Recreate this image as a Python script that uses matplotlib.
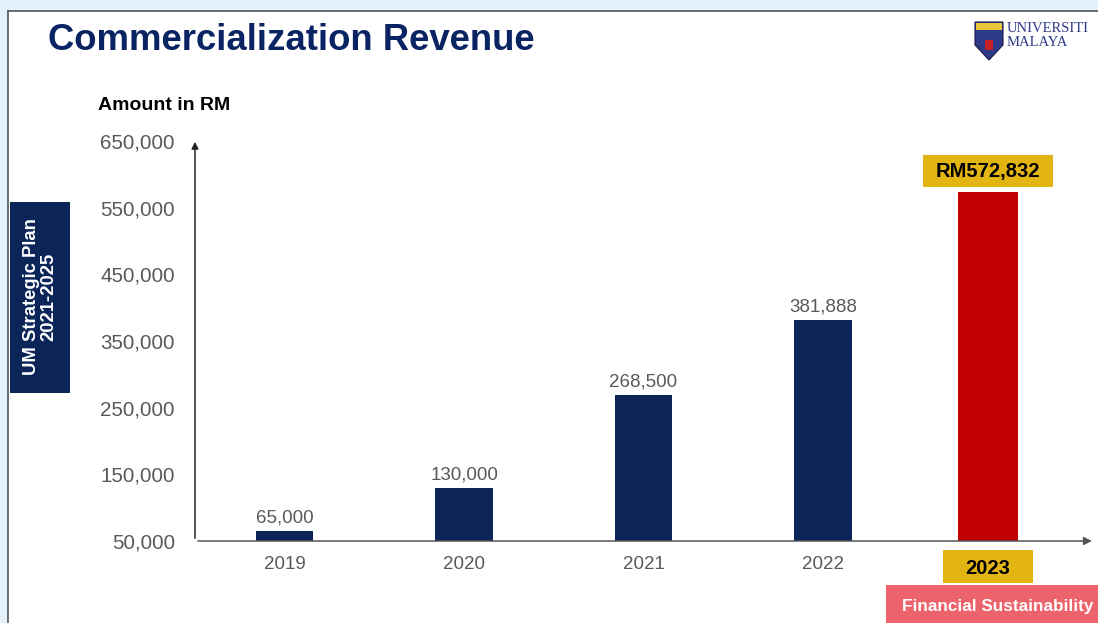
import matplotlib.pyplot as plt
from matplotlib.patches import Rectangle, Polygon

# --- data ---
years = ["2019", "2020", "2021", "2022", "2023"]
revenue = [65000, 130000, 268500, 381888, 572832]
y_ticks = [50000, 150000, 250000, 350000, 450000, 550000, 650000]

NAVY = "#0B2559"
RED = "#C00000"
GOLD = "#E3B512"
GRAY = "#595959"

plt.rcParams['font.family'] = ['Liberation Sans', 'DejaVu Sans']

fig = plt.figure(figsize=(10.98, 6.23), dpi=100)
fig.patch.set_facecolor("#E3F1FC")

# white slide panel with a thin dark edge on top/left
fig.patches.append(Rectangle((8 / 1098, 0), 1, 1 - 11 / 623, transform=fig.transFigure,
                             facecolor="white", edgecolor="none", zorder=-5))
fig.add_artist(plt.Line2D([8 / 1098, 1], [1 - 11 / 623] * 2, color="#555555", lw=1.2))
fig.add_artist(plt.Line2D([8 / 1098] * 2, [0, 1 - 11 / 623], color="#555555", lw=1.2))

# title
fig.text(48 / 1098, 1 - 41 / 623, "Commercialization Revenue", fontsize=26.3, fontweight="bold",
         color="#0A2463", va="center", ha="left")
fig.text(98 / 1098, 1 - 105 / 623, "Amount in RM", fontsize=14, fontweight="bold",
         color="black", va="center", ha="left")

# logo (simple shield + name)
shield = Polygon([(975 / 1098, 1 - 22 / 623), (1003 / 1098, 1 - 22 / 623),
                  (1003 / 1098, 1 - 45 / 623), (989 / 1098, 1 - 60 / 623),
                  (975 / 1098, 1 - 45 / 623)], closed=True, transform=fig.transFigure,
                 facecolor="#2E3A87", edgecolor="#1A1A4A", lw=0.8)
fig.patches.append(shield)
fig.patches.append(Rectangle((976 / 1098, 1 - 30 / 623), 26 / 1098, 7 / 623,
                             transform=fig.transFigure, facecolor="#E8C53A", edgecolor="none"))
fig.patches.append(Rectangle((985 / 1098, 1 - 50 / 623), 8 / 1098, 10 / 623,
                             transform=fig.transFigure, facecolor="#C8202A", edgecolor="none"))
fig.text(1007 / 1098, 1 - 28 / 623, "UNIVERSITI", fontsize=10.5, family="Liberation Serif",
         color="#2E3A87", va="center", ha="left")
fig.text(1007 / 1098, 1 - 42 / 623, "MALAYA", fontsize=10.5, family="Liberation Serif",
         color="#2E3A87", va="center", ha="left")

# left strategic plan tag
fig.patches.append(Rectangle((10 / 1098, 1 - 393 / 623), 60 / 1098, 191 / 623,
                             transform=fig.transFigure, facecolor=NAVY, edgecolor="none"))
fig.text(40 / 1098, 1 - 297 / 623, "UM Strategic Plan\n2021-2025", rotation=90, fontsize=13.3,
         fontweight="bold", color="white", ha="center", va="center", linespacing=1.0)

# --- chart ---
ax = fig.add_axes([195 / 1098, 82 / 623, 897 / 1098, 400 / 623])
x = [0, 1, 2, 3, 3.92]
colors = [NAVY] * 4 + [RED]
ax.bar(x[:-1], [v - y_ticks[0] for v in revenue[:-1]], bottom=y_ticks[0], width=0.32,
       color=colors[:-1], zorder=2)
ax.bar(x[-1], revenue[-1] - y_ticks[0], bottom=y_ticks[0], width=0.335, color=colors[-1], zorder=2)

ax.set_xlim(-0.5, 4.5)
ax.set_ylim(y_ticks[0], y_ticks[-1])
ax.set_yticks(y_ticks)
ax.set_yticklabels([f"{v:,}" for v in y_ticks], fontsize=14.8, color=GRAY)
ax.set_xticks(x[:-1])
ax.set_xticklabels(years[:-1], fontsize=13.5, color=GRAY)
ax.tick_params(axis="y", length=0, pad=14.5)
ax.tick_params(axis="x", length=0, pad=11)
for s in ax.spines.values():
    s.set_visible(False)
ax.patch.set_alpha(0)

# arrow axes
ax.annotate("", xy=(0, 1.005), xytext=(0, 0), xycoords="axes fraction",
            arrowprops=dict(arrowstyle="-|>", color="#222222", lw=1.1, mutation_scale=10))
ax.annotate("", xy=(1.003, 0), xytext=(0, 0), xycoords="axes fraction",
            arrowprops=dict(arrowstyle="-|>", color="#555555", lw=1.1, mutation_scale=12))

# value labels
for xi, v in zip(x[:-1], revenue[:-1]):
    ax.text(xi, v + 7000, f"{v:,}", ha="center", va="bottom", fontsize=13.5, color=GRAY)

# gold callout for the 2023 value
ax.add_patch(Rectangle((x[-1] - 0.36, revenue[-1] + 8000), 0.72, 48000,
                       facecolor=GOLD, edgecolor="none", zorder=3))
ax.text(x[-1], revenue[-1] + 32000, f"RM{revenue[-1]:,}", ha="center", va="center",
        fontsize=14.5, fontweight="bold", color="black", zorder=4)

# highlighted 2023 tick label
xt = ax.get_xaxis_transform()
ax.add_patch(Rectangle((x[-1] - 0.25, -0.105), 0.5, 0.083, transform=xt, clip_on=False,
                       facecolor=GOLD, edgecolor="none", zorder=3))
ax.text(x[-1], -0.068, years[-1], transform=xt, ha="center", va="center",
        fontsize=14.5, fontweight="bold", color="black", zorder=4)

fig.patches.append(Rectangle((886 / 1098, 0), 212 / 1098, 38 / 623,
                             transform=fig.transFigure, facecolor="#EC636B", edgecolor="none"))
fig.text(998 / 1098, 1 - 607 / 623, "Financial Sustainability", fontsize=12.3,
         fontweight="bold", color="white", ha="center", va="center")

fig.savefig("out.png", dpi=100, facecolor=fig.get_facecolor())
